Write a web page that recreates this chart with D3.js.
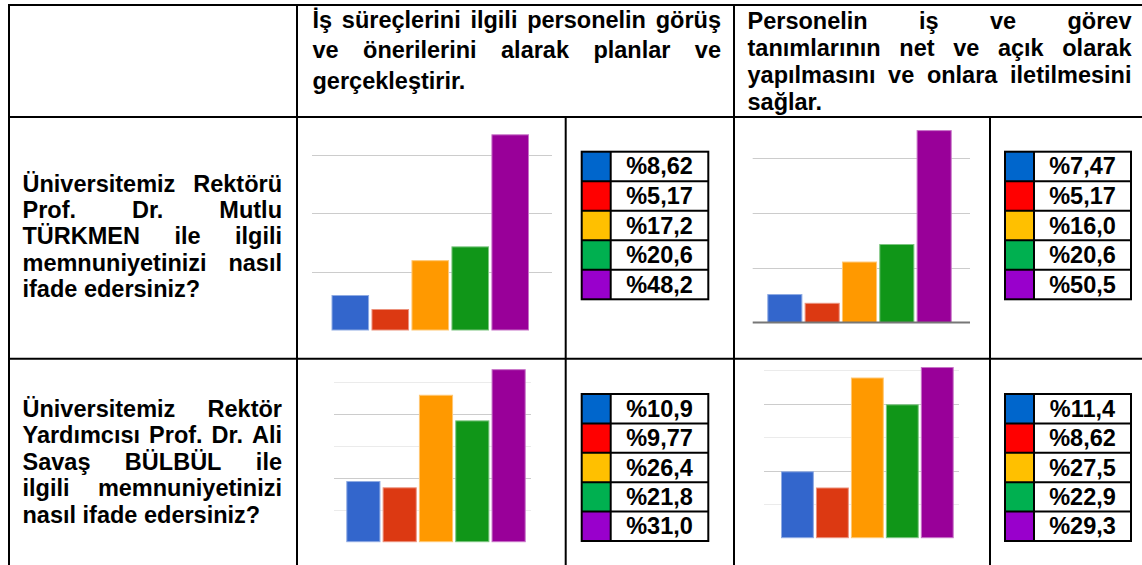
<!DOCTYPE html>
<html>
<head>
<meta charset="utf-8">
<script src="https://cdn.jsdelivr.net/npm/d3@7/dist/d3.min.js"></script>
<style>
  html, body { margin: 0; padding: 0; background: #fff; }
  svg { display: block; }
  text { font-family: "Liberation Sans", Arial, sans-serif; font-weight: bold; fill: #000; }
</style>
</head>
<body>
<svg id="chart" width="1142" height="565"></svg>
<script>
// ---------------- DATA ----------------
const levels = ["1", "2", "3", "4", "5"];
const respondents = 174;

const statements = [
  "İş süreçlerini ilgili personelin görüş ve önerilerini alarak planlar ve gerçekleştirir.",
  "Personelin iş ve görev tanımlarının net ve açık olarak yapılmasını ve onlara iletilmesini sağlar."
];
const questions = [
  "Üniversitemiz Rektörü Prof. Dr. Mutlu TÜRKMEN ile ilgili memnuniyetinizi nasıl ifade edersiniz?",
  "Üniversitemiz Rektör Yardımcısı Prof. Dr. Ali Savaş BÜLBÜL ile ilgili memnuniyetinizi nasıl ifade edersiniz?"
];

// line breaks as in the picture
const statementLines = [
  ["İş süreçlerini ilgili personelin görüş", "ve önerilerini alarak planlar ve", "gerçekleştirir."],
  ["Personelin iş ve görev", "tanımlarının net ve açık olarak", "yapılmasını ve onlara iletilmesini", "sağlar."]
];
const questionLines = [
  ["Üniversitemiz Rektörü", "Prof. Dr. Mutlu", "TÜRKMEN ile ilgili", "memnuniyetinizi nasıl", "ifade edersiniz?"],
  ["Üniversitemiz Rektör", "Yardımcısı Prof. Dr. Ali", "Savaş BÜLBÜL ile", "ilgili memnuniyetinizi", "nasıl ifade edersiniz?"]
];

// percentages per level
const rektorIsSurecleri   = [8.62, 5.17, 17.2, 20.6, 48.2];
const rektorGorevTanimi   = [7.47, 5.17, 16.0, 20.6, 50.5];
const yardimciIsSurecleri = [10.9, 9.77, 26.4, 21.8, 31.0];
const yardimciGorevTanimi = [11.4, 8.62, 27.5, 22.9, 29.3];

// gridlines (respondent counts)
const gridMajorRow1 = [25, 50, 75];
const gridMinorRow1 = [];
const gridMajorRow2 = [20, 40];
const gridMinorRow2 = [10, 30, 50];

const barColors    = ["#3366cc", "#dc3912", "#ff9900", "#109618", "#990099"];
const legendColors = ["#0066cc", "#ff0000", "#ffc000", "#00b050", "#9900cc"];

// ---------------- LAYOUT ----------------
const svg = d3.select("#chart");
const FONT = 23.5;

const panels = [
  { values: rektorIsSurecleri, major: gridMajorRow1, minor: gridMinorRow1,
    gx: [312, 552], base: 330, band: [331.5, 529], dom: 50, top: 127, axis: false,
    leg: { x0: 581.7, sx: 610.7, x1: 708.3, y0: 151.7, y1: 299.3 } },
  { values: rektorGorevTanimi, major: gridMajorRow1, minor: gridMinorRow1,
    gx: [752.7, 970], base: 322.5, band: [767.3, 951.7], dom: 55, top: 112.95, axis: true,
    leg: { x0: 1005, sx: 1034, x1: 1131, y0: 151.7, y1: 299.3 } },
  { values: yardimciIsSurecleri, major: gridMajorRow2, minor: gridMinorRow2,
    gx: [334, 531], base: 541.7, band: [346.3, 525.7], dom: 32, top: 363.6, axis: false,
    leg: { x0: 581.7, sx: 610.7, x1: 708.3, y0: 394, y1: 541 } },
  { values: yardimciGorevTanimi, major: gridMajorRow2, minor: gridMinorRow2,
    gx: [764, 959], base: 537.7, band: [781, 953.7], dom: 30, top: 362.95, axis: false,
    leg: { x0: 1005, sx: 1034, x1: 1131, y0: 394, y1: 541 } }
];

const fmt = v => "%" + d3.format(".3r")(v).replace(".", ",");

panels.forEach(p => {
  const g = svg.append("g");
  const y = d3.scaleLinear().domain([0, p.dom]).range([p.base, p.top]);
  const x = d3.scaleBand().domain(levels).range(p.band).paddingInner(0.06).paddingOuter(0);
  const pct = c => c / respondents * 100;

  g.selectAll("line.minor").data(p.minor).enter().append("line")
    .attr("x1", p.gx[0]).attr("x2", p.gx[1])
    .attr("y1", d => Math.round(y(pct(d))) + 0.5).attr("y2", d => Math.round(y(pct(d))) + 0.5)
    .attr("stroke", "#ebebeb").attr("stroke-width", 1);
  g.selectAll("line.major").data(p.major).enter().append("line")
    .attr("x1", p.gx[0]).attr("x2", p.gx[1])
    .attr("y1", d => Math.round(y(pct(d))) + 0.5).attr("y2", d => Math.round(y(pct(d))) + 0.5)
    .attr("stroke", "#cccccc").attr("stroke-width", 1);

  g.selectAll("rect.bar").data(p.values).enter().append("rect")
    .attr("x", (d, i) => x(levels[i]) + 0.5)
    .attr("y", d => y(d) + 0.5)
    .attr("width", x.bandwidth() - 1)
    .attr("height", d => p.base - y(d) - 0.5)
    .attr("fill", (d, i) => barColors[i])
    .attr("stroke", (d, i) => d3.interpolateRgb(barColors[i], "#ffffff")(0.45))
    .attr("stroke-width", 1);

  if (p.axis) {
    g.append("line").attr("x1", p.gx[0]).attr("x2", p.gx[1])
      .attr("y1", p.base).attr("y2", p.base)
      .attr("stroke", "#777").attr("stroke-width", 2);
  }

  // legend table
  const L = p.leg;
  const rh = (L.y1 - L.y0) / levels.length;
  const lg = svg.append("g");
  lg.selectAll("rect.sw").data(levels).enter().append("rect")
    .attr("x", L.x0).attr("y", (d, i) => L.y0 + i * rh)
    .attr("width", L.sx - L.x0).attr("height", rh)
    .attr("fill", (d, i) => legendColors[i]);
  lg.selectAll("text").data(p.values).enter().append("text")
    .attr("x", (L.sx + L.x1) / 2)
    .attr("y", (d, i) => L.y0 + (i + 0.5) * rh + 8)
    .attr("text-anchor", "middle")
    .attr("font-size", FONT)
    .text(d => fmt(d));
  lg.selectAll("line.h").data(d3.range(1, levels.length)).enter().append("line")
    .attr("x1", L.x0).attr("x2", L.x1)
    .attr("y1", i => L.y0 + i * rh).attr("y2", i => L.y0 + i * rh)
    .attr("stroke", "#000").attr("stroke-width", 2);
  lg.append("line").attr("x1", L.sx).attr("x2", L.sx).attr("y1", L.y0).attr("y2", L.y1)
    .attr("stroke", "#000").attr("stroke-width", 2);
  lg.append("rect").attr("x", L.x0).attr("y", L.y0)
    .attr("width", L.x1 - L.x0).attr("height", L.y1 - L.y0)
    .attr("fill", "none").attr("stroke", "#000").attr("stroke-width", 2);
});

// ---------------- TEXT (justified) ----------------
function paragraph(lines, x0, x1, y0, lh) {
  const g = svg.append("g");
  lines.forEach((line, li) => {
    const words = line.split(" ");
    const last = li === lines.length - 1;
    const ts = words.map(w => g.append("text").attr("font-size", FONT).attr("y", y0 + li * lh).text(w));
    const widths = ts.map(t => t.node().getComputedTextLength());
    const total = d3.sum(widths);
    const gap = (last || words.length < 2) ? FONT * 0.278 : (x1 - x0 - total) / (words.length - 1);
    let cx = x0;
    ts.forEach((t, i) => { t.attr("x", cx); cx += widths[i] + gap; });
  });
}
paragraph(statementLines[0], 312.5, 721, 27.5, 30.5);
paragraph(statementLines[1], 747.5, 1131.5, 28.8, 27);
paragraph(questionLines[0], 22.5, 282, 191.5, 26.4);
paragraph(questionLines[1], 22.5, 282, 416.5, 26.6);

// ---------------- TABLE GRID ----------------
const hLines = [5, 117, 358.7];
const vLines = [[9, 4, 565], [297, 4, 565], [734, 4, 565], [565.7, 116, 565], [990, 116, 565]];
svg.selectAll("line.th").data(hLines).enter().append("line")
  .attr("x1", 8).attr("x2", 1142).attr("y1", d => d).attr("y2", d => d)
  .attr("stroke", "#000").attr("stroke-width", 2);
svg.selectAll("line.tv").data(vLines).enter().append("line")
  .attr("x1", d => d[0]).attr("x2", d => d[0]).attr("y1", d => d[1]).attr("y2", d => d[2])
  .attr("stroke", "#000").attr("stroke-width", 2);
</script>
</body>
</html>
